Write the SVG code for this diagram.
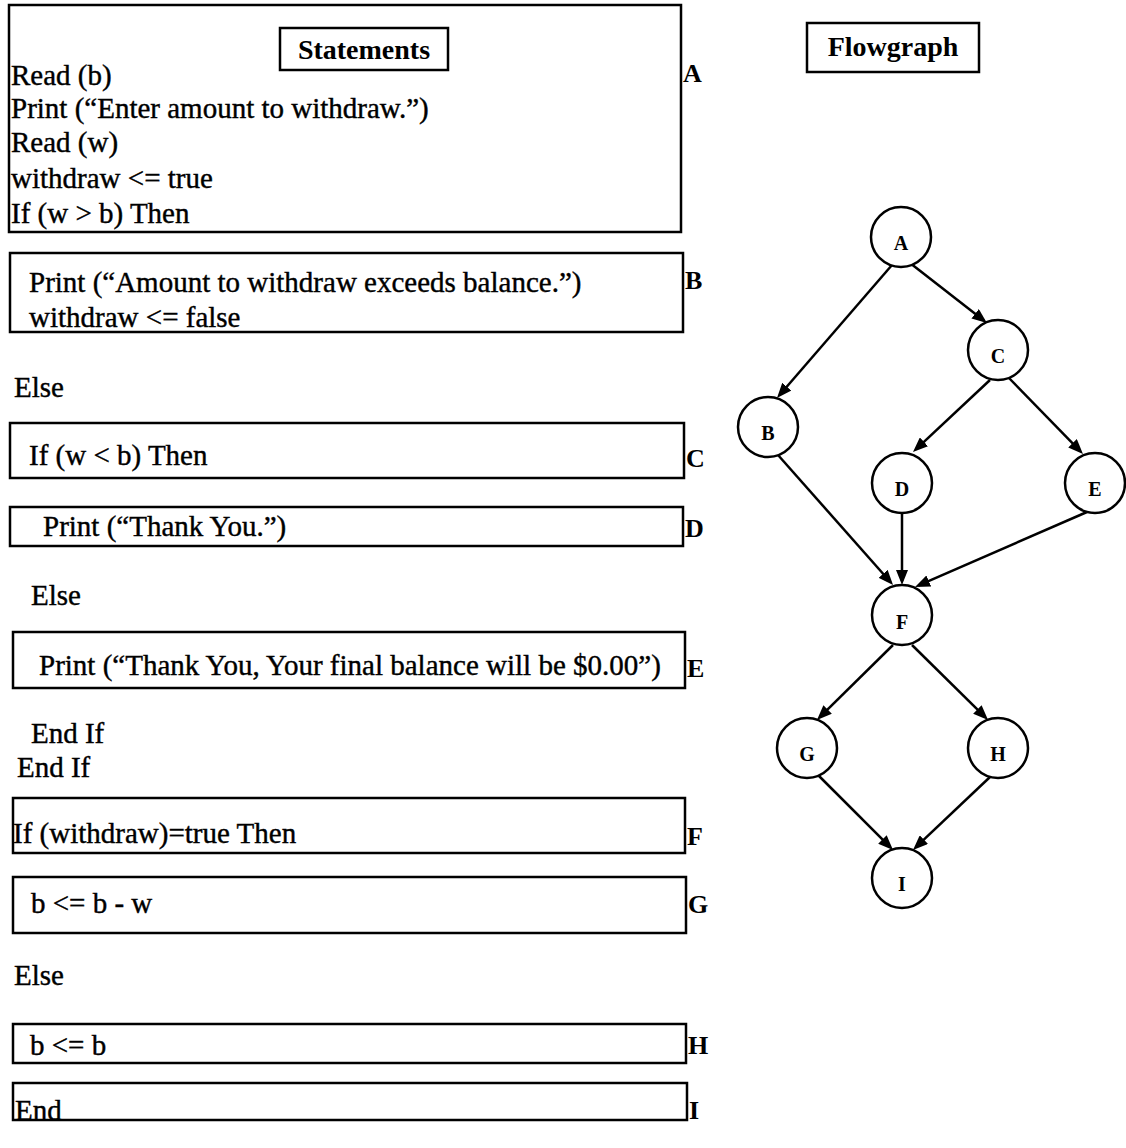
<svg xmlns="http://www.w3.org/2000/svg" width="1126" height="1148" viewBox="0 0 1126 1148">
  <style>
    .box { fill: none; stroke: #000; stroke-width: 2.5; }
    .code { font-family: "Liberation Serif", "Times New Roman", serif; font-size: 29px; fill: #000; stroke: #000; stroke-width: 0.4; }
    .head { font-family: "Liberation Serif", "Times New Roman", serif; font-size: 28px; font-weight: bold; fill: #000; text-anchor: middle; }
    .tag { font-family: "Liberation Serif", "Times New Roman", serif; font-size: 26px; font-weight: bold; fill: #000; }
    .node circle { fill: #fff; stroke: #000; stroke-width: 2.5; }
    .node text { font-family: "Liberation Serif", "Times New Roman", serif; font-size: 20px; font-weight: bold; fill: #000; text-anchor: middle; }
    .edge { stroke: #000; stroke-width: 2.5; fill: none; marker-end: url(#arrow); }
  </style>
  <defs>
    <marker id="arrow" markerUnits="userSpaceOnUse" markerWidth="15" markerHeight="12" refX="11" refY="6" orient="auto">
      <path d="M0,0 L15,6 L0,12 z" fill="#000"/>
    </marker>
  </defs>
  <rect width="1126" height="1148" fill="#fff"/>

  <!-- Statement blocks -->
  <g id="stmt-A">
    <rect class="box" x="9" y="5" width="672" height="227"/>
    <rect class="box" x="280" y="28" width="168" height="42"/>
    <text class="head" x="364" y="59">Statements</text>
    <text class="code" x="11" y="85">Read (b)</text>
    <text class="code" x="11" y="118">Print (“Enter amount to withdraw.”)</text>
    <text class="code" x="11" y="152">Read (w)</text>
    <text class="code" x="11" y="188">withdraw &lt;= true</text>
    <text class="code" x="11" y="223">If (w &gt; b) Then</text>
    <text class="tag" x="683" y="82">A</text>
  </g>

  <g id="stmt-B">
    <rect class="box" x="10" y="253" width="673" height="79"/>
    <text class="code" x="29" y="292">Print (“Amount to withdraw exceeds balance.”)</text>
    <text class="code" x="29" y="327">withdraw &lt;= false</text>
    <text class="tag" x="685" y="289">B</text>
  </g>

  <text class="code" x="14" y="397">Else</text>

  <g id="stmt-C">
    <rect class="box" x="10" y="423" width="674" height="55"/>
    <text class="code" x="29" y="465">If (w &lt; b) Then</text>
    <text class="tag" x="686" y="467">C</text>
  </g>

  <g id="stmt-D">
    <rect class="box" x="10" y="507" width="673" height="39"/>
    <text class="code" x="43" y="536">Print (“Thank You.”)</text>
    <text class="tag" x="685" y="537">D</text>
  </g>

  <text class="code" x="31" y="605">Else</text>

  <g id="stmt-E">
    <rect class="box" x="13" y="632" width="672" height="56"/>
    <text class="code" x="39" y="675">Print (“Thank You, Your final balance will be $0.00”)</text>
    <text class="tag" x="687" y="677">E</text>
  </g>

  <text class="code" x="31" y="743">End If</text>
  <text class="code" x="17" y="777">End If</text>

  <g id="stmt-F">
    <rect class="box" x="13" y="798" width="672" height="55"/>
    <text class="code" x="13" y="843">If (withdraw)=true Then</text>
    <text class="tag" x="687" y="845">F</text>
  </g>

  <g id="stmt-G">
    <rect class="box" x="13" y="877" width="673" height="56"/>
    <text class="code" x="31" y="913">b &lt;= b - w</text>
    <text class="tag" x="688" y="913">G</text>
  </g>

  <text class="code" x="14" y="985">Else</text>

  <g id="stmt-H">
    <rect class="box" x="13" y="1024" width="673" height="39"/>
    <text class="code" x="30" y="1055">b &lt;= b</text>
    <text class="tag" x="688" y="1054">H</text>
  </g>

  <g id="stmt-I">
    <rect class="box" x="13" y="1083" width="674" height="37"/>
    <text class="code" x="15" y="1120">End</text>
    <text class="tag" x="689" y="1119">I</text>
  </g>

  <!-- Flowgraph title -->
  <g id="flowgraph-title">
    <rect class="box" x="807" y="23" width="172" height="49"/>
    <text class="head" x="893" y="56">Flowgraph</text>
  </g>

  <!-- Flowgraph edges -->
  <g id="connectors">
    <line class="edge" x1="892" y1="265" x2="779.6" y2="395"/>
    <line class="edge" x1="910" y1="263" x2="983.8" y2="320.5"/>
    <line class="edge" x1="990" y1="380" x2="915.9" y2="449.3"/>
    <line class="edge" x1="1009" y1="378" x2="1080.2" y2="451.1"/>
    <line class="edge" x1="778" y1="455" x2="890.4" y2="582"/>
    <line class="edge" x1="902" y1="512" x2="902" y2="581"/>
    <line class="edge" x1="1087" y1="512" x2="918.7" y2="585.4"/>
    <line class="edge" x1="893" y1="645" x2="819.8" y2="717.2"/>
    <line class="edge" x1="912" y1="645" x2="985.2" y2="717.2"/>
    <line class="edge" x1="818" y1="775" x2="890.2" y2="847.2"/>
    <line class="edge" x1="990" y1="777" x2="915.9" y2="847.2"/>
  </g>

  <!-- Flowgraph nodes -->
  <g id="node-A" class="node"><circle cx="901" cy="237" r="30"/><text x="901" y="250">A</text></g>
  <g id="node-B" class="node"><circle cx="768" cy="427" r="30"/><text x="768" y="440">B</text></g>
  <g id="node-C" class="node"><circle cx="998" cy="350" r="30"/><text x="998" y="363">C</text></g>
  <g id="node-D" class="node"><circle cx="902" cy="483" r="30"/><text x="902" y="496">D</text></g>
  <g id="node-E" class="node"><circle cx="1095" cy="483" r="30"/><text x="1095" y="496">E</text></g>
  <g id="node-F" class="node"><circle cx="902" cy="615" r="30"/><text x="902" y="629">F</text></g>
  <g id="node-G" class="node"><circle cx="807" cy="748" r="30"/><text x="807" y="761">G</text></g>
  <g id="node-H" class="node"><circle cx="998" cy="748" r="30"/><text x="998" y="761">H</text></g>
  <g id="node-I" class="node"><circle cx="902" cy="878" r="30"/><text x="902" y="891">I</text></g>
</svg>
